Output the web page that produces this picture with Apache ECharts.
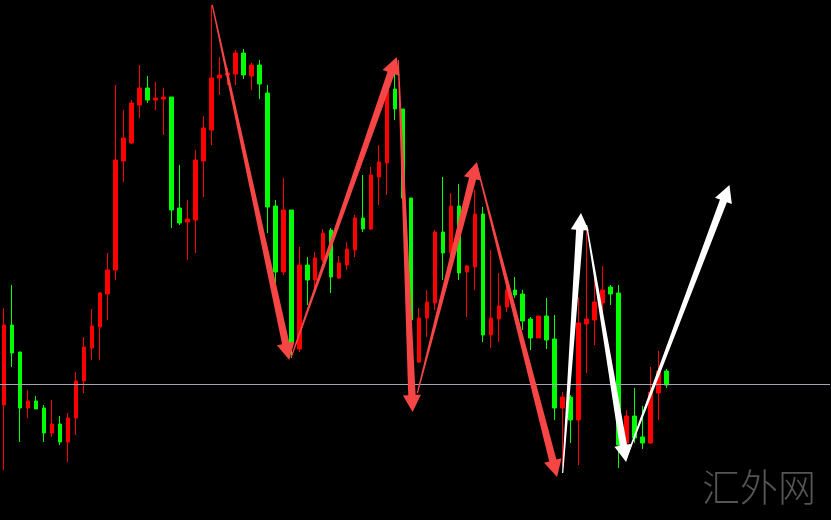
<!DOCTYPE html>
<html>
<head>
<meta charset="utf-8">
<script src="https://cdn.jsdelivr.net/npm/echarts@6/dist/echarts.min.js"></script>
<style>
html,body{margin:0;padding:0;background:#000;}
#chart{width:831px;height:520px;}
</style>
</head>
<body>
<div id="chart"></div>
<script>
// Candle values (price units)
const opens  = [115,195,168,112,119,112,87,96,78,102,139,172,193,226,250,359,377,415,432,420,421,423,312,298,300,359,390,442,445,446,467,444,455,427,314,248,310,171,255,240,260,290,242,255,270,302,291,343,357,431,411,322,158,202,217,288,267,314,248,253,306,185,201,213,230,226,201,182,204,181,112,123,100,196,200,217,233,227,77,104,83,77,127,149];
const closes = [195,167,112,119,111,87,96,78,102,139,173,194,227,250,360,382,417,432,420,422,423,310,297,301,360,392,442,445,447,467,445,455,436,313,248,310,177,255,240,262,287,243,257,271,302,291,345,358,430,411,322,200,202,218,288,267,314,247,254,306,185,202,214,230,225,199,182,204,180,112,123,100,197,201,218,230,226,75,104,82,77,128,149,135];
const lows   = [50,153,78,102,111,78,83,75,58,85,127,160,160,200,240,338,376,402,417,410,385,292,295,260,267,323,375,425,435,435,441,430,421,287,237,245,162,168,215,227,258,227,241,250,263,288,290,315,325,400,320,150,157,183,210,240,260,240,203,230,178,172,178,208,222,190,170,182,171,100,53,77,55,147,175,208,215,52,73,77,71,76,100,132];
const highs  = [212,235,168,130,124,115,120,104,107,148,183,211,228,267,435,410,420,455,444,438,432,423,355,320,370,404,515,463,452,470,471,457,460,435,320,342,310,273,263,268,291,292,264,278,305,345,353,375,438,447,411,322,212,230,290,343,327,336,255,330,313,270,247,243,243,230,203,204,222,205,128,125,223,293,243,254,235,235,110,132,114,153,169,151];
const categories = Array.from({length:104}, (_, i) => String(i + 1));
// Arrow annotations: [startIndex, startPrice, endIndex, endPrice]
const redArrows = [
  [26.1, 515, 35.75, 160],
  [36.0, 163, 49.2, 463],
  [49.4, 460, 51.2, 108],
  [51.8, 127, 59.25, 358],
  [59.25, 355, 69.3, 43]
];
const whiteArrows = [
  [70.0, 47, 72.3, 307],
  [73.0, 295, 77.95, 58],
  [77.9, 60, 90.9, 335]
];
const baseLine = 136;
const watermark = '汇外网';

const candleData = opens.map((o, i) => [o, closes[i], lows[i], highs[i]]);

function arrowRenderer(color) {
  return function (params, api) {
    const p1 = api.coord([api.value(0), api.value(1)]);
    const p2 = api.coord([api.value(2), api.value(3)]);
    const dx = p2[0] - p1[0], dy = p2[1] - p1[1];
    const len = Math.sqrt(dx * dx + dy * dy);
    const ux = dx / len, uy = dy / len;
    const nx = -uy, ny = ux;
    const headLen = 17, headW = 9, w0 = 0.6, w1 = 3.7;
    const bx = p2[0] - ux * headLen, by = p2[1] - uy * headLen;
    const pts = [
      [p1[0] + nx * w0, p1[1] + ny * w0],
      [bx + nx * w1, by + ny * w1],
      [bx + nx * headW, by + ny * headW],
      [p2[0], p2[1]],
      [bx - nx * headW, by - ny * headW],
      [bx - nx * w1, by - ny * w1],
      [p1[0] - nx * w0, p1[1] - ny * w0]
    ];
    return { type: 'polygon', shape: { points: pts }, style: { fill: color } };
  };
}

const chart = echarts.init(document.getElementById('chart'));
chart.setOption({
  animation: false,
  backgroundColor: '#000000',
  grid: { left: -2, top: 0, width: 832, height: 520 },
  xAxis: [
    { type: 'category', data: categories, show: false, boundaryGap: true },
    { type: 'value', min: -0.5, max: 103.5, show: false }
  ],
  yAxis: { type: 'value', min: 0, max: 520, show: false, splitLine: { show: false } },
  series: [
    {
      type: 'candlestick',
      data: candleData,
      barWidth: 4,
      itemStyle: {
        color: '#ff0000', color0: '#00ff00',
        borderColor: '#ff0000', borderColor0: '#00ff00', borderWidth: 1
      },
      markLine: {
        silent: true, symbol: 'none', label: { show: false },
        lineStyle: { color: '#a4a4b4', width: 1, type: 'solid' },
        data: [{ yAxis: baseLine }]
      },
      z: 2
    },
    {
      type: 'custom', xAxisIndex: 1, yAxisIndex: 0,
      renderItem: arrowRenderer('#f54545'),
      data: redArrows, z: 5, silent: true
    },
    {
      type: 'custom', xAxisIndex: 1, yAxisIndex: 0,
      renderItem: arrowRenderer('#ffffff'),
      data: whiteArrows, z: 5, silent: true
    }
  ],
  graphic: [
    {
      type: 'text', left: 702, top: 468, z: 10,
      style: { text: watermark, fill: '#555555', font: '300 38px "Noto Sans CJK SC"' }
    }
  ]
});
</script>
</body>
</html>
